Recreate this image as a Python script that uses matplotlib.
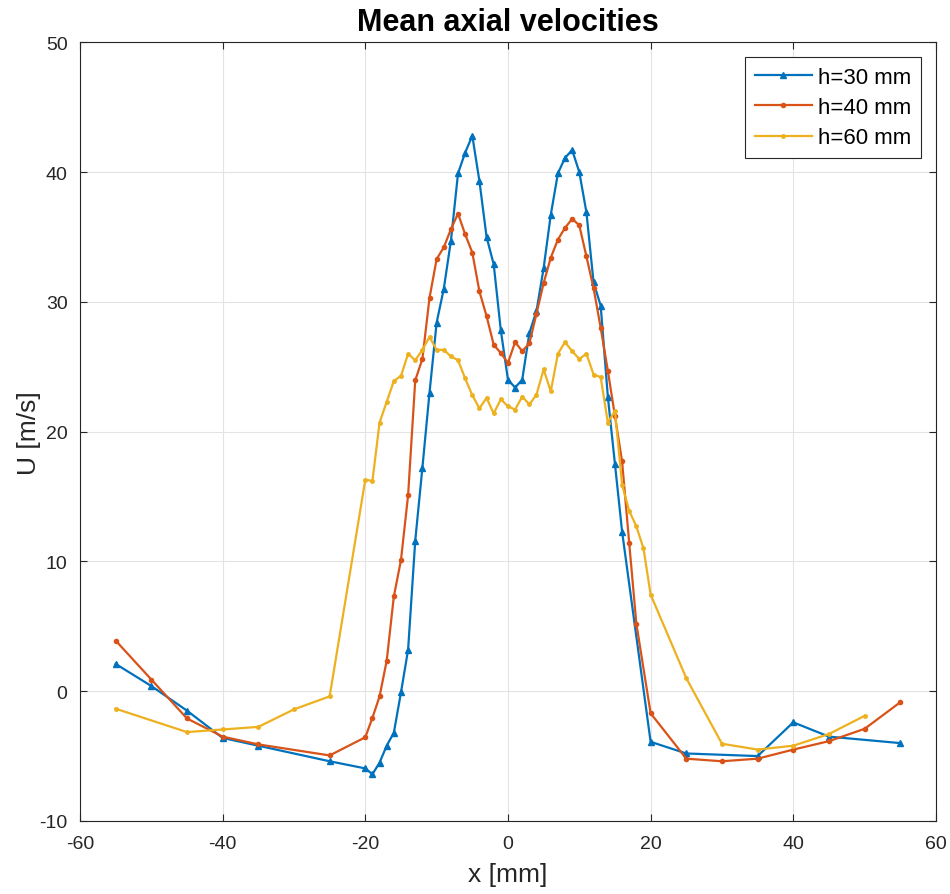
import numpy as np
import matplotlib
matplotlib.use("Agg")
import matplotlib.pyplot as plt

plt.rcParams['font.family'] = ['Liberation Sans', 'DejaVu Sans']
plt.rcParams['axes.unicode_minus'] = False

# h = 30 mm
x30 = [-55, -50, -45, -40, -35, -25, -20, -19, -18, -17, -16, -15, -14, -13, -12, -11,
       -10, -9, -8, -7, -6, -5, -4, -3, -2, -1, 0, 1, 2, 3, 4, 5, 6, 7, 8, 9, 10,
       11, 12, 13, 14, 15, 16, 20, 25, 35, 40, 45, 55]
u30 = [2.1, 0.4, -1.5, -3.6, -4.2, -5.4, -5.95, -6.4, -5.5, -4.2, -3.2, -0.1, 3.2, 11.6, 17.2, 23.0,
       28.4, 31.0, 34.7, 39.9, 41.5, 42.8, 39.3, 35.0, 32.9, 27.8, 24.0, 23.4, 24.0, 27.6, 29.3, 32.6, 36.7, 39.9, 41.1, 41.7, 40.0,
       36.9, 31.5, 29.7, 22.7, 17.5, 12.3, -3.9, -4.8, -5.0, -2.4, -3.5, -4.0]

# h = 40 mm
x40 = [-55, -50, -45, -40, -35, -25, -20, -19, -18, -17, -16, -15, -14, -13, -12, -11,
       -10, -9, -8, -7, -6, -5, -4, -3, -2, -1, 0, 1, 2, 3, 4, 5, 6, 7, 8, 9, 10,
       11, 12, 13, 14, 15, 16, 17, 18, 20, 25, 30, 35, 40, 45, 50, 55]
u40 = [3.9, 0.9, -2.1, -3.5, -4.1, -4.95, -3.55, -2.05, -0.4, 2.35, 7.3, 10.1, 15.1, 23.95, 25.6, 30.3,
       33.3, 34.2, 35.6, 36.8, 35.2, 33.8, 30.8, 28.9, 26.7, 26.05, 25.3, 26.9, 26.2, 26.8, 29.1, 31.45, 33.4, 34.8, 35.7, 36.4, 35.9,
       33.5, 31.05, 28.0, 24.7, 21.2, 17.7, 11.4, 5.2, -1.7, -5.2, -5.4, -5.2, -4.5, -3.85, -2.9, -0.85]

# h = 60 mm
x60 = [-55, -45, -40, -35, -30, -25, -20, -19, -18, -17, -16, -15, -14, -13, -12, -11,
       -10, -9, -8, -7, -6, -5, -4, -3, -2, -1, 0, 1, 2, 3, 4, 5, 6, 7, 8, 9, 10,
       11, 12, 13, 14, 15, 16, 17, 18, 19, 20, 25, 30, 35, 40, 45, 50]
u60 = [-1.35, -3.15, -2.95, -2.75, -1.4, -0.4, 16.3, 16.2, 20.7, 22.3, 23.9, 24.3, 26.0, 25.5, 26.3, 27.3,
       26.3, 26.3, 25.8, 25.5, 24.1, 22.8, 21.8, 22.6, 21.4, 22.5, 21.95, 21.7, 22.7, 22.1, 22.85, 24.8, 23.1, 26.0, 26.9, 26.2, 25.6,
       26.0, 24.4, 24.2, 20.7, 21.6, 15.9, 13.9, 12.7, 11.0, 7.45, 1.0, -4.05, -4.5, -4.2, -3.3, -1.9]

fig = plt.figure(figsize=(9.5, 8.95), dpi=100)
ax = fig.add_axes([0.0842, 0.0816, 0.901, 0.870])

ax.plot(x30, u30, '-^', color='#0072BD', lw=1.6, ms=4.5, label='h=30 mm')
ax.plot(x40, u40, '-o', color='#D95319', lw=1.6, ms=3, label='h=40 mm')
ax.plot(x60, u60, '-o', color='#EDB120', lw=1.6, ms=2.5, label='h=60 mm')

ax.set_xlim(-60, 60)
ax.set_ylim(-10, 50)
ax.set_xticks(np.arange(-60, 61, 20))
ax.set_yticks(np.arange(-10, 51, 10))
ax.grid(True, color='#E3E3E3', lw=0.8)
ax.set_axisbelow(True)
ax.tick_params(direction='in', length=5, labelsize=14, colors='#262626',
               top=True, right=True)
ax.tick_params(axis='x', pad=10)
ax.tick_params(axis='y', pad=9)
for s in ax.spines.values():
    s.set_color('#262626')
    s.set_linewidth(0.8)

ax.set_xlabel('x [mm]', fontsize=19, color='#262626', labelpad=7)
ax.set_ylabel('U [m/s]', fontsize=19, color='#262626', labelpad=-1)
ax.set_title('Mean axial velocities', fontsize=22, fontweight='bold', pad=9)

leg = ax.legend(loc='upper right', fontsize=16, fancybox=False, framealpha=1,
                edgecolor='#262626', handlelength=2.55, borderaxespad=0.65,
                labelspacing=0.42, borderpad=0.45, handletextpad=0.3)
leg.get_frame().set_linewidth(0.8)

fig.savefig('out.png', dpi=100)
